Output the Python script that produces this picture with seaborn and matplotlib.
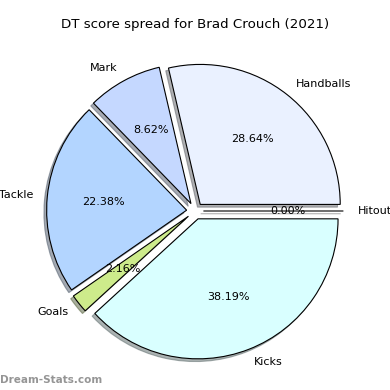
import matplotlib
matplotlib.use("Agg")
import matplotlib.pyplot as plt
import seaborn as sns

# 数据 (按逆时针顺序, 从0度开始)
labels = ['Hitout', 'Handballs', 'Mark', 'Tackle', 'Goals', 'Kicks']
shares = [0.00, 28.64, 8.62, 22.38, 2.16, 38.19]
colors = ['#ffffff', '#eaf1ff', '#c5d8ff', '#b3d5ff', '#cdeb8b', '#d9ffff']
explode = [0.06] * len(labels)

sns.set_style("white")
plt.rcParams['font.family'] = ['DejaVu Sans']
plt.rcParams['font.size'] = 8
plt.rcParams['text.color'] = 'black'

fig = plt.figure(figsize=(3.9, 3.9), dpi=100)
ax = fig.add_axes([20 / 390, 4 / 390, 350 / 390, 350 / 390])

ax.pie(shares, labels=labels, colors=colors, explode=explode,
       autopct='%1.2f%%', startangle=0,
       shadow={'ox': -0.014, 'oy': -0.014, 'shade': 0.6},
       wedgeprops={'edgecolor': 'black', 'linewidth': 0.8},
       textprops={'color': 'black'})
ax.set_title('DT score spread for Brad Crouch (2021)', fontsize=9.6, color='black')

fig.text(0.0, 0.012, 'Dream-Stats.com', fontsize=7.5, fontweight='bold',
         color='#959595', ha='left', va='bottom')

fig.savefig('out.png', dpi=100)
